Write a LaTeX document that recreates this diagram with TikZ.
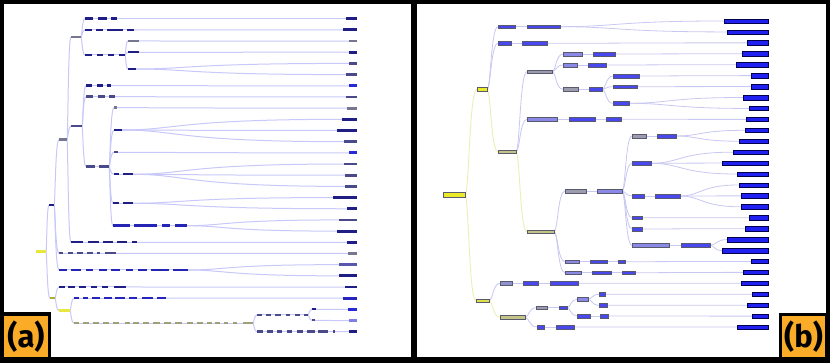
\documentclass[tikz,border=0pt]{standalone}
\usepackage{fontspec}
\newfontfamily\labfont{Fira Sans}
\usetikzlibrary{calc}
\pgfdeclarelayer{back}\pgfdeclarelayer{bg}\pgfsetlayers{back,bg,main}
\definecolor{aNavy}{RGB}{30,30,132}
\definecolor{aSlate}{RGB}{74,74,138}
\definecolor{aGray}{RGB}{118,118,142}
\definecolor{aBlue}{RGB}{40,40,214}
\definecolor{aYel}{RGB}{232,232,60}
\definecolor{aOlive}{RGB}{160,160,120}
\definecolor{aLink}{RGB}{200,200,250}
\definecolor{bYel}{RGB}{234,234,42}
\definecolor{bKhaki}{RGB}{196,196,134}
\definecolor{bGray}{RGB}{156,156,174}
\definecolor{bPeri}{RGB}{138,138,230}
\definecolor{bBlue}{RGB}{72,72,238}
\definecolor{bLeaf}{RGB}{32,32,240}
\definecolor{bBord}{RGB}{90,90,110}
\definecolor{bLinkY}{RGB}{238,238,180}
\definecolor{bLinkB}{RGB}{200,200,242}
\definecolor{labOr}{RGB}{250,172,40}
\newcommand\nb[5]{\node[#5, minimum width={#3-#2}] (#1) at (#2,#4) {};}
\newcommand\chain[4]{%
  \foreach \a/\b [count=\i, remember=\i as \j (initially 0)] in {#3}{%
    \node[#4, minimum width={\b-\a}, alias=#1-e] (#1-\i) at (\a,#2) {};
    \ifnum\i>1 \begin{pgfonlayer}{bg}\draw[clk] (#1-\j.east) -- (#1-\i.west);\end{pgfonlayer}\fi
  }}
\newcommand\chainc[4]{%
  \foreach \a/\b/\c [count=\i, remember=\i as \j (initially 0)] in {#3}{%
    \node[#4, fill=\c, minimum width={\b-\a}, alias=#1-e] (#1-\i) at (\a,#2) {};
    \ifnum\i>1 \begin{pgfonlayer}{bg}\draw[clk] (#1-\j.east) -- (#1-\i.west);\end{pgfonlayer}\fi
  }}
\def\lkk{0.25}
\newcommand\lk[3][lka]{\draw[#1] let \p1=(#2.east), \p2=(#3.west), \n1={\x1+\lkk*(\x2-\x1)} in (\p1) .. controls (\n1,\y1) and (\n1,\y2) .. (\p2);}
\begin{document}
\begin{tikzpicture}[x=1pt,y=-1pt,
  an/.style={rectangle, inner sep=0pt, outer sep=0pt, minimum height=2.4pt, anchor=west, draw=none},
  bn/.style={rectangle, inner sep=0pt, outer sep=0pt, minimum height=3.8pt, anchor=west, draw=bBord, line width=0.4pt},
  lka/.style={draw=aLink, line width=1pt},
  lky/.style={draw=bLinkY, line width=0.9pt},
  lkb/.style={draw=bLinkB, line width=0.8pt},
  clk/.style={draw=aLink, line width=1pt},
  labbox/.style={fill=labOr, inner sep=0pt, outer sep=0pt, anchor=north west, font=\labfont\bfseries\fontsize{31}{31}\selectfont}]
\useasboundingbox (0,0) rectangle (830,363);
\begin{pgfonlayer}{back}
\fill[black] (0,0) rectangle (830,363);
\fill[white] (4,4) rectangle (411,357);
\fill[white] (417,4) rectangle (826,357);
\fill[black] (0,312.5) rectangle (51,363);
\fill[black] (779,313) rectangle (830,363);
\end{pgfonlayer}
% ---------------- panel (a) ----------------
\begin{scope}
\nb{ra}{36}{46}{251.7}{an,fill=aYel}
\nb{b0}{49}{54}{205}{an,fill=aNavy}
\nb{bb}{59}{67}{139.7}{an,fill=aGray}
\nb{a1}{71}{81}{37}{an,fill=aGray}
\nb{a2}{71}{82}{126.3}{an,fill=aSlate}
\chain{r20}{242.3}{71/83,88/99,103/113,117/127,132/137}{an,fill=aNavy}
\chain{r0}{18.7}{85/93,98/107,111/117}{an,fill=aNavy}
\chain{r1}{30}{85/92,96/103,107/123,127/134}{an,fill=aNavy}
\chain{c}{55}{85/92,97/103,108/114,119/125}{an,fill=aNavy}
\nb{n2}{128}{139}{41}{an,fill=aGray}
\nb{n3}{128}{139}{52.3}{an,fill=aNavy}
\nb{n45}{128}{136}{69}{an,fill=aNavy}
\chain{r6}{85.7}{86/92,97/103,107/111}{an,fill=aNavy}
\chain{r7}{96.7}{86/93,98/105,109/115}{an,fill=aSlate}
\chain{d}{166.7}{86/95,99/109}{an,fill=aSlate}
\nb{n8}{114}{117}{107.7}{an,fill=aGray}
\nb{n9}{114}{122}{130}{an,fill=aNavy}
\nb{n12}{114}{118}{152.3}{an,fill=aSlate}
\chain{e}{174.3}{114/119,123/133}{an,fill=aNavy}
\chain{f}{203.3}{113/119,123/133}{an,fill=aNavy}
\chain{g}{225.7}{113/130,134/157,162/170,175/187}{an,fill=aBlue!60!aNavy}
\chain{r21}{253.3}{59/63,68/73,77/83,87/93,97/100,105/116}{an,fill=aSlate}
\chain{h}{270}{59/67,71/81,86/93,99/107,111/120,126/133,138/147,151/169,173/188}{an,fill=aBlue!60!aNavy}
\nb{y1}{50}{55}{298.3}{an,fill=aYel!75!black}
\chain{r24}{287}{59/65,68/75,79/86,91/97,102/108,114/126}{an,fill=aNavy}
\nb{y2}{59}{70}{310.7}{an,fill=aYel}
\chain{r25}{298.2}{74/79,83/88,92/100,104/112,115/125,129/137,142/153,157/166}{an,fill=aBlue!70!aNavy}
\chain{z}{323.3}{74/79,83/89,93/99,103/109,113/119,125/130,133/139,143/149,153/160,164/171,175/182,187/193,197/203,207/212,215/220,224/228,233/237,243/253}{an,fill=aOlive}
\chain{z1}{315}{257/262,266/271,275/281,286/290,295/300,304/308}{an,fill=aSlate}
\nb{n26}{312}{316}{309.3}{an,fill=aNavy}
\nb{n27}{312}{315}{320.3}{an,fill=aSlate}
\chain{r28}{331.7}{257/263,267/273,277/282,287/292,297/303,307/315,318/328,333/335}{an,fill=aSlate}
\foreach \i/\s/\c in {0/346/aNavy,1/343/aNavy,2/349/aGray,3/349/aNavy,4/349/aSlate,5/346/aSlate,6/349/aBlue,7/346/aSlate,8/347/aGray,9/342/aNavy,10/337/aNavy,11/344/aSlate,12/349/aBlue,13/344/aSlate,14/345/aSlate,15/345/aSlate,16/333/aNavy,17/347/aNavy,18/339/aSlate,19/337/aNavy,20/347/aNavy,21/348/aGray,22/339/aGray!60!aBlue,23/339/aNavy,24/345/aNavy,25/343/aBlue!70!aNavy,26/348/aBlue,27/349/aBlue!60!white,28/349/aNavy}
  {\nb{la\i}{\s}{357}{18.7+11.18*\i}{an,minimum height=2.8pt,fill=\c}}
\begin{pgfonlayer}{bg}
\lk{ra}{b0}\lk{ra}{y1}
\lk{b0}{bb}\lk{b0}{r21-1}\lk{b0}{h-1}
\lk{bb}{a1}\lk{bb}{a2}\lk{bb}{r20-1}
\lk{a1}{r0-1}\lk{a1}{r1-1}\lk{a1}{c-1}
\lk{c-e}{n2}\lk{c-e}{n3}\lk{c-e}{n45}
\lk{a2}{r6-1}\lk{a2}{r7-1}\lk{a2}{d-1}
\lk{d-e}{n8}\lk{d-e}{n9}\lk{d-e}{n12}\lk{d-e}{e-1}\lk{d-e}{f-1}\lk{d-e}{g-1}
\lk{y1}{r24-1}\lk{y1}{y2}
\lk{y2}{r25-1}\lk{y2}{z-1}
\lk{z-e}{z1-1}\lk{z-e}{r28-1}
\lk{z1-e}{n26}\lk{z1-e}{n27}
\lk{r0-e}{la0}\lk{r1-e}{la1}\lk{n2}{la2}\lk{n3}{la3}\lk{n45}{la4}\lk{n45}{la5}
\lk{r6-e}{la6}\lk{r7-e}{la7}\lk{n8}{la8}\lk{n9}{la9}\lk{n9}{la10}\lk{n9}{la11}
\lk{n12}{la12}\lk{e-e}{la13}\lk{e-e}{la14}\lk{e-e}{la15}\lk{f-e}{la16}\lk{f-e}{la17}
\lk{g-e}{la18}\lk{g-e}{la19}\lk{r20-e}{la20}\lk{r21-e}{la21}\lk{h-e}{la22}\lk{h-e}{la23}
\lk{r24-e}{la24}\lk{r25-e}{la25}\lk{n26}{la26}\lk{n27}{la27}\lk{r28-e}{la28}
\end{pgfonlayer}
\node[labbox, minimum width=44pt, minimum height=41pt] (labA) at (4,316) {(a)};
\end{scope}
% ---------------- panel (b) ----------------
\begin{scope}[clk/.style={draw=bLinkB, line width=0.8pt}]
\def\lkk{0.35}
\nb{rb}{443}{465}{195}{bn,fill=bYel,minimum height=4.6pt}
\nb{m1}{477}{487}{89.3}{bn,fill=bYel}
\nb{m2}{476}{489}{300.7}{bn,fill=bYel!70!bKhaki}
\chainc{b1}{26.7}{498/515/bBlue,527/560/bBlue}{bn}
\chainc{b2}{43.3}{498/511/bBlue,522/547/bBlue}{bn}
\nb{m1a}{498}{516}{151.7}{bn,fill=bKhaki}
\nb{g1}{527}{552}{71.7}{bn,fill=bGray}
\chainc{p1}{119.3}{527/557/bPeri,569/595/bBlue,606/621/bBlue}{bn}
\nb{k1}{527}{554}{231.7}{bn,fill=bKhaki}
\chainc{c3}{54}{563/582/bPeri,593/615/bBlue}{bn}
\chainc{c4}{65}{563/577/bPeri,588/606/bBlue}{bn}
\chainc{c5}{89.3}{563/578/bGray,589/602/bBlue}{bn}
\nb{c5c}{613}{639}{76}{bn,fill=bBlue}
\nb{c6c}{613}{637}{86.7}{bn,fill=bBlue}
\nb{c7c}{613}{629}{103.3}{bn,fill=bBlue}
\chainc{k1a}{191}{565/586/bGray,597/622/bPeri}{bn}
\chainc{d1}{136}{632/646/bGray,657/676/bBlue}{bn}
\nb{d2}{632}{651}{163.3}{bn,fill=bBlue}
\chainc{d3}{196}{632/644/bBlue,655/680/bBlue}{bn}
\nb{d4}{632}{642}{217.7}{bn,fill=bBlue}
\nb{d5}{632}{642}{229}{bn,fill=bBlue}
\chainc{d6}{245.3}{632/669/bPeri,681/710/bBlue}{bn}
\chainc{k2}{261.7}{565/579/bPeri,590/607/bBlue,618/625/bBlue}{bn}
\chainc{k3}{272.7}{565/581/bPeri,592/611/bBlue,622/635/bBlue}{bn}
\chainc{e1}{283.3}{500/512/bPeri!60!bGray,523/538/bBlue,550/578/bBlue}{bn}
\nb{kk}{500}{525}{317.3}{bn,fill=bKhaki}
\chainc{f1}{307.7}{536/547/bGray,559/567/bBlue}{bn}
\nb{f2}{577}{588}{299.3}{bn,fill=bPeri}
\nb{f2a}{599}{605}{294.3}{bn,fill=bBlue}
\nb{f2b}{599}{607}{305.3}{bn,fill=bBlue}
\chainc{f3}{316}{577/590/bBlue,600/608/bBlue}{bn}
\chainc{f4}{327}{537/544/bBlue,556/574/bBlue}{bn}
\foreach \i/\s in {0/724,1/727,2/747,3/742,4/736,5/751,6/751,7/743,8/749,9/746,10/745,11/739,12/733,13/722,14/737,15/739,16/741,17/741,18/749,19/745,20/727,21/722,22/751,23/743,24/741,25/752,26/747,27/752,28/737}
  {\nb{lb\i}{\s}{768}{21+10.93*\i}{bn,minimum height=4.4pt,fill=bLeaf,draw=black!70!blue}}
\begin{pgfonlayer}{bg}
\lk[lky]{rb}{m1}\lk[lky]{rb}{m2}
\lk[lkb]{m1}{b1-1}\lk[lkb]{m1}{b2-1}\lk[lky]{m1}{m1a}
\lk[lkb]{m1a}{g1}\lk[lkb]{m1a}{p1-1}\lk[lky]{m1a}{k1}
\lk[lkb]{g1}{c3-1}\lk[lkb]{g1}{c4-1}\lk[lkb]{g1}{c5-1}
\lk[lkb]{c5-e}{c5c}\lk[lkb]{c5-e}{c6c}\lk[lkb]{c5-e}{c7c}
\lk[lkb]{k1}{k1a-1}\lk[lkb]{k1}{k2-1}\lk[lkb]{k1}{k3-1}
\lk[lkb]{k1a-e}{d1-1}\lk[lkb]{k1a-e}{d2}\lk[lkb]{k1a-e}{d3-1}\lk[lkb]{k1a-e}{d4}\lk[lkb]{k1a-e}{d5}\lk[lkb]{k1a-e}{d6-1}
\lk[lkb]{m2}{e1-1}\lk[lky]{m2}{kk}
\lk[lkb]{kk}{f1-1}\lk[lkb]{kk}{f4-1}
\lk[lkb]{f1-e}{f2}\lk[lkb]{f1-e}{f3-1}
\lk[lkb]{f2}{f2a}\lk[lkb]{f2}{f2b}
\lk[lkb]{b1-e}{lb0}\lk[lkb]{b1-e}{lb1}\lk[lkb]{b2-e}{lb2}\lk[lkb]{c3-e}{lb3}\lk[lkb]{c4-e}{lb4}
\lk[lkb]{c5c}{lb5}\lk[lkb]{c6c}{lb6}\lk[lkb]{c7c}{lb7}\lk[lkb]{c7c}{lb8}\lk[lkb]{p1-e}{lb9}
\lk[lkb]{d1-e}{lb10}\lk[lkb]{d1-e}{lb11}\lk[lkb]{d2}{lb12}\lk[lkb]{d2}{lb13}\lk[lkb]{d2}{lb14}
\lk[lkb]{d3-e}{lb15}\lk[lkb]{d3-e}{lb16}\lk[lkb]{d3-e}{lb17}\lk[lkb]{d4}{lb18}\lk[lkb]{d5}{lb19}
\lk[lkb]{d6-e}{lb20}\lk[lkb]{d6-e}{lb21}\lk[lkb]{k2-e}{lb22}\lk[lkb]{k3-e}{lb23}\lk[lkb]{e1-e}{lb24}
\lk[lkb]{f2a}{lb25}\lk[lkb]{f2b}{lb26}\lk[lkb]{f3-e}{lb27}\lk[lkb]{f4-e}{lb28}
\end{pgfonlayer}
\node[labbox, minimum width=43pt, minimum height=41pt] (labB) at (782,316) {(b)};
\end{scope}
\end{tikzpicture}
\end{document}
